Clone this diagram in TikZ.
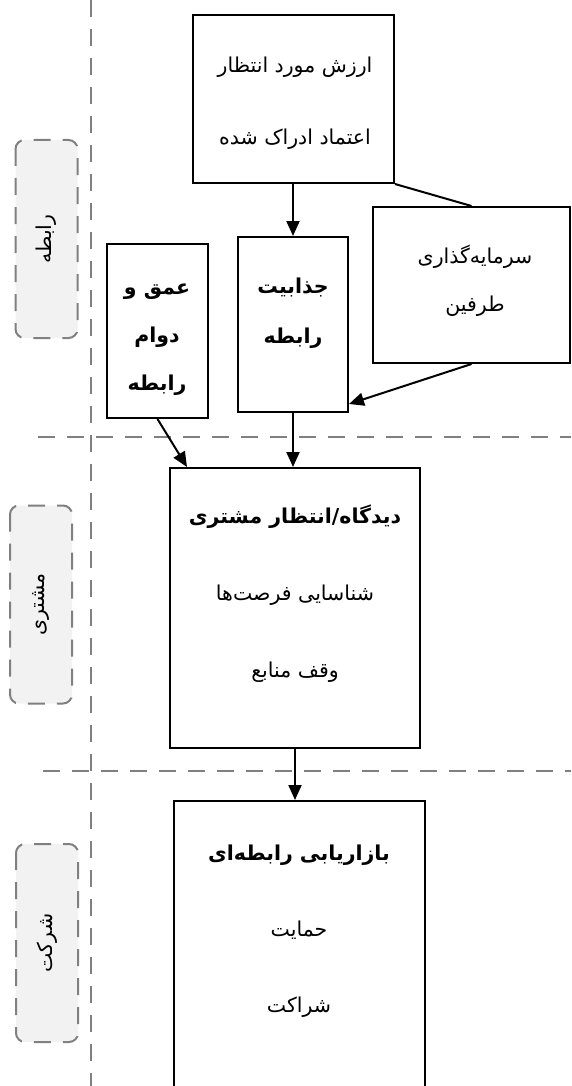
\documentclass[tikz,border=0pt]{standalone}
\usepackage{fontspec}
\newfontfamily\farsi[Script=Arabic]{DejaVu Sans}
\TeXXeTstate=1
\usetikzlibrary{arrows.meta}
\newcommand{\fa}[1]{\beginR #1\endR}
\begin{document}
\begin{tikzpicture}[x=1pt,y=-1pt,
		box/.style={draw,line width=2pt,inner sep=0pt},
		txt/.style={font=\farsi\fontsize{20.5}{#1}\selectfont,align=center},
		lane/.style={draw=gray,line width=2pt,dash pattern=on 17pt off 12pt},
		tag/.style={draw=gray,fill=gray!10,rounded corners=9pt,line width=2pt,dash pattern=on 17pt off 12pt,rotate=90,minimum width=198pt,minimum height=62pt,font=\farsi\fontsize{20.5}{20.5}\selectfont},
		conn/.style={line width=2pt,-{Triangle[length=15pt,width=13pt]}}]
		\useasboundingbox (0,0) rectangle (571,1086);
		\draw[lane] (91,0) -- (91,1086);
		\draw[lane] (38,437) -- (571,437);
		\draw[lane] (43,771) -- (571,771);
		\node[tag] (tagRel) at (46.5,239) {\fa{رابطه}};
		\node[tag] (tagCust) at (41,604.5) {\fa{مشتری}};
		\node[tag] (tagFirm) at (47,943) {\fa{شرکت}};
		\node[box,minimum width=201pt,minimum height=168pt] (value) at (293.5,99) {};
		\node[box,minimum width=101pt,minimum height=174pt] (depth) at (157.5,331) {};
		\node[box,minimum width=110pt,minimum height=175pt] (attract) at (293,324.5) {};
		\node[box,minimum width=197pt,minimum height=156pt] (invest) at (471.5,285) {};
		\node[box,minimum width=250pt,minimum height=280pt] (view) at (295,608) {};
		\node[box,minimum width=251pt,minimum height=310pt] (market) at (299.5,956) {};
		\node[txt=72pt] (valueTxt) at (295,103) {\fa{ارزش مورد انتظار}\\\fa{اعتماد ادراک شده}};
		\node[txt=48pt] (depthTxt) at (157,340) {\bfseries\fa{عمق و}\\\bfseries\fa{دوام}\\\bfseries\fa{رابطه}};
		\node[txt=50pt] (attractTxt) at (293,313) {\bfseries\fa{جذابیت}\\\bfseries\fa{رابطه}};
		\node[txt=48pt] (investTxt) at (475,281) {\fa{سرمایه‌گذاری}\\\fa{طرفین}};
		\node[txt=77pt] (viewTxt) at (295,594) {\bfseries\fa{دیدگاه/انتظار مشتری}\\\fa{شناسایی فرصت‌ها}\\\fa{وقف منابع}};
		\node[txt=76pt] (marketTxt) at (299,931) {\bfseries\fa{بازاریابی رابطه‌ای}\\\fa{حمایت}\\\fa{شراکت}};
		\draw[conn] (attract.north |- value.south) -- (attract.north);
		\draw[line width=2pt] (value.south east) -- (invest.north);
		\draw[conn] (invest.south) -- ([yshift=9pt]attract.south east);
		\draw[conn] (depth.south) -- ([xshift=18pt]view.north west);
		\draw[conn] (attract.south) -- (attract.south |- view.north);
		\draw[conn] (view.south) -- (view.south |- market.north);
	\end{tikzpicture}
\end{document}
